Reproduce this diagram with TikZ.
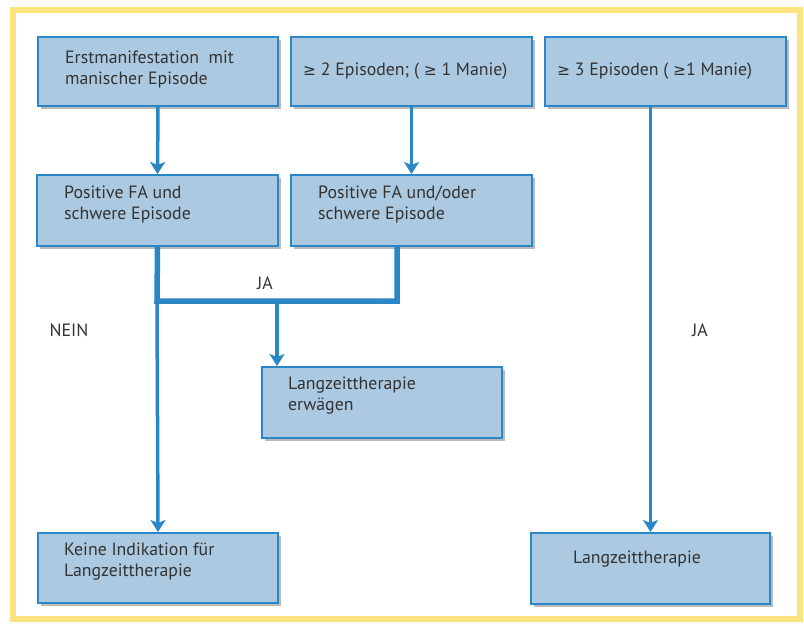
\documentclass[tikz,border=0pt]{standalone}
\usepackage{fontspec}
\setmainfont{PT Sans}
\newfontfamily\symfont{DejaVu Sans}
\usetikzlibrary{shadows,arrows.meta}
\definecolor{boxfill}{HTML}{ABC9E0}
\definecolor{boxline}{HTML}{2A86C5}
\definecolor{txtcol}{HTML}{333333}
\definecolor{frameyellow}{HTML}{FDE47F}
\newcommand{\gesym}{{\symfont\fontsize{15.5}{15.5}\selectfont ≥}}
\begin{document}
\begin{tikzpicture}[x=1pt,y=-1pt,
  box/.style={draw=boxline, line width=2pt, fill=boxfill, inner sep=0pt, anchor=north west,
    minimum width=240pt, minimum height=69pt,
    drop shadow={shadow xshift=2.5pt, shadow yshift=-2.5pt, opacity=0.45, fill=black!60}},
  txt/.style={font=\fontsize{17.8}{20.5}\selectfont, text=txtcol, align=left, inner sep=0pt, anchor=base west},
  lbl/.style={font=\fontsize{17.8}{20.5}\selectfont, text=txtcol, inner sep=0pt},
  arr/.style={draw=boxline, line width=3.5pt, -{Stealth[length=12pt,width=15pt,inset=3pt]}},
  thickln/.style={draw=boxline, line width=5.5pt}]
\useasboundingbox (0,0) rectangle (804,624);
\fill[white] (0,0) rectangle (804,624);
\draw[frameyellow, line width=6pt] (13,10) rectangle (800,619);

\node[box] (b1) at (37,36) {};
\node[box, minimum width=241pt] (b2) at (290,36) {};
\node[box, minimum width=241pt] (b3) at (544,36) {};
\node[box, minimum width=241pt, minimum height=71pt] (b4) at (36,174) {};
\node[box, minimum width=241pt, minimum height=71pt] (b5) at (290,174) {};
\node[box, minimum height=71pt] (b6) at (261,366) {};
\node[box, minimum height=70pt] (b7) at (37,532) {};
\node[box, minimum width=239pt, minimum height=71pt] (b8) at (530,532) {};

\node[txt] (t1) at (65,84) {Erstmanifestation\ \ mit\\manischer Episode};
\node[txt] (t2) at (303,75) {\gesym{} 2 Episoden; ( \gesym{} 1 Manie)};
\node[txt] (t3) at (557,75) {\gesym{} 3 Episoden ( \gesym 1 Manie)};
\node[txt] (t4) at (64,219) {Positive FA und\\schwere Episode};
\node[txt] (t5) at (318,219) {Positive FA und/oder\\schwere Episode};
\node[txt] (t6) at (288,410) {Langzeittherapie\\erwägen};
\node[txt] (t7) at (64,576) {Keine Indikation für\\Langzeittherapie};
\node[txt] (t8) at (573,563) {Langzeittherapie};

\coordinate (jl) at (157,301);
\coordinate (jr) at (397,301);
\coordinate (jm) at (277,301);

\draw[arr] (b1.south) -- (b4.north);
\draw[arr] (b2.south) -- (b5.north);
\draw[arr] (b3.south -| b8.north) -- (b8.north);
\draw[thickln] (b4.south) -- (jl) -- (jr) -- (jr |- b5.south);
\draw[arr] (jm) -- (jm |- b6.north);
\draw[arr] (jl) -- (b7.north);

\node[lbl] (ja1) at (265,283) {JA};
\node[lbl] (nein) at (69,330) {NEIN};
\node[lbl] (ja2) at (700,330) {JA};
\end{tikzpicture}
\end{document}
